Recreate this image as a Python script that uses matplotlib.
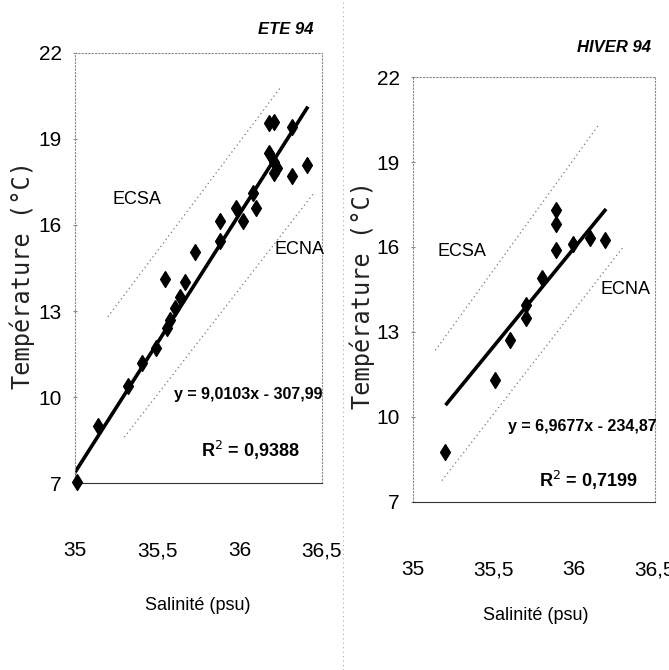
import numpy as np
import matplotlib.pyplot as plt
from matplotlib.lines import Line2D

# ETE 94 (summer) salinity / temperature
ete_sal = [35.01, 35.14, 35.32, 35.41, 35.49, 35.56, 35.58, 35.61, 35.64, 35.55,
           35.67, 35.73, 35.88, 35.88, 35.98, 36.02, 36.08, 36.10, 36.18, 36.21,
           36.18, 36.21, 36.23, 36.21, 36.32, 36.41, 36.32]
ete_temp = [7.05, 9.0, 10.4, 11.2, 11.7, 12.4, 12.7, 13.1, 13.5, 14.1,
            14.0, 15.05, 15.45, 16.15, 16.6, 16.15, 17.1, 16.6, 19.55, 19.6,
            18.5, 18.2, 18.0, 17.8, 17.7, 18.1, 19.4]

# HIVER 94 (winter)
hiver_sal = [35.20, 35.51, 35.60, 35.70, 35.70, 35.80, 35.89, 35.89, 35.89, 35.99,
             36.10, 36.19]
hiver_temp = [8.75, 11.3, 12.7, 13.5, 13.95, 14.9, 15.9, 16.8, 17.3, 16.1,
              16.3, 16.25]

ete_fit = (9.0103, -307.99)
hiver_fit = (6.9677, -234.87)
ete_fit_range = [35.0, 36.41]
hiver_fit_range = [35.21, 36.19]

# ECSA / ECNA envelope lines (salinity, temperature end points)
ete_ecsa = ([35.2, 36.25], [12.8, 20.8])
ete_ecna = ([35.3, 36.45], [8.6, 17.1])
hiver_ecsa = ([35.14, 36.15], [12.35, 20.3])
hiver_ecna = ([35.18, 36.31], [7.75, 16.05])

xticks = [35, 35.5, 36, 36.5]
xticklabels = ["35", "35,5", "36", "36,5"]
yticks = [7, 10, 13, 16, 19, 22]

narrow = ["Liberation Sans", "DejaVu Sans"]
diamond = [(0, 1), (0.62, 0), (0, -1), (-0.62, 0), (0, 1)]

fig = plt.figure(figsize=(6.69, 6.70), dpi=100)
fig.add_artist(Line2D([0.513, 0.513], [0.0, 1.0], color="#aaaaaa", lw=0.8,
                      ls=(0, (1, 3))))


def px(x, y):
    return x / 669, 1 - y / 670


def panel(rect, sal, temp, fit, fit_range, ecsa, ecna, title, title_pos,
          eq_pos, r2, r2_pos, ecsa_pos, ecna_pos, ylab_pos, xlab_pos):
    ax = fig.add_axes(rect)
    ax.set_xlim(35, 36.5)
    ax.set_ylim(7, 22)
    ax.plot(*ecsa, color="#777777", lw=0.9, ls=(0, (1, 2.5)))
    ax.plot(*ecna, color="#777777", lw=0.9, ls=(0, (1, 2.5)))
    xs = np.array(fit_range)
    ax.plot(xs, fit[0] * xs + fit[1], color="black", lw=2.6)
    ax.scatter(sal, temp, marker=diamond, s=130, color="black", zorder=3,
               clip_on=False)
    for side in ["top", "right", "left"]:
        ax.spines[side].set_linestyle((0, (1, 2)))
        ax.spines[side].set_color("#888888")
    ax.spines["bottom"].set_color("#333333")
    ax.spines["bottom"].set_linestyle((0, (3, 1)))
    ax.set_xticks(xticks)
    ax.set_xticklabels(xticklabels)
    ax.set_yticks(yticks)
    ax.tick_params(axis="x", length=0, pad=42)
    ax.tick_params(axis="y", length=3, direction="inout", pad=8, color="#888888")
    for lab in ax.get_xticklabels() + ax.get_yticklabels():
        lab.set_family(narrow)
        lab.set_fontsize(15)
    sgn = "-" if fit[1] < 0 else "+"
    eq = f"y = {fit[0]:.4f}x {sgn} {abs(fit[1]):.2f}".replace(".", ",")
    fig.text(*eq_pos, eq, family=narrow, fontsize=11.5, weight="bold",
             ha="center", va="center")
    fig.text(*r2_pos, "R$^2$ = " + r2, family=narrow, fontsize=13,
             weight="bold", ha="center", va="center")
    fig.text(*ecsa_pos, "ECSA", family=narrow, fontsize=13, ha="center",
             va="center")
    fig.text(*ecna_pos, "ECNA", family=narrow, fontsize=13, ha="center",
             va="center")
    fig.text(*title_pos, title, family=narrow, fontsize=12, style="italic",
             weight="bold", ha="right", va="center")
    fig.text(*ylab_pos, "Température (°C)", family="DejaVu Sans Mono",
             fontsize=17, rotation=90, ha="center", va="center",
             color="#222222")
    fig.text(*xlab_pos, "Salinité (psu)", family=narrow, fontsize=13,
             ha="center", va="center")
    return ax


panel([0.112, 0.279, 0.369, 0.642], ete_sal, ete_temp, ete_fit, ete_fit_range,
      ete_ecsa, ete_ecna, "ETE 94", px(313, 30), px(248, 395), "0,9388",
      px(250, 450), px(137, 200), px(300, 250), px(22, 275), px(198, 605))

panel([0.617, 0.251, 0.362, 0.634], hiver_sal, hiver_temp, hiver_fit,
      hiver_fit_range, hiver_ecsa, hiver_ecna, "HIVER 94", px(651, 48),
      px(582, 427), "0,7199", px(588, 480), px(462, 252), px(625, 290),
      px(362, 295), px(536, 615))

fig.savefig("out.png", dpi=100)
